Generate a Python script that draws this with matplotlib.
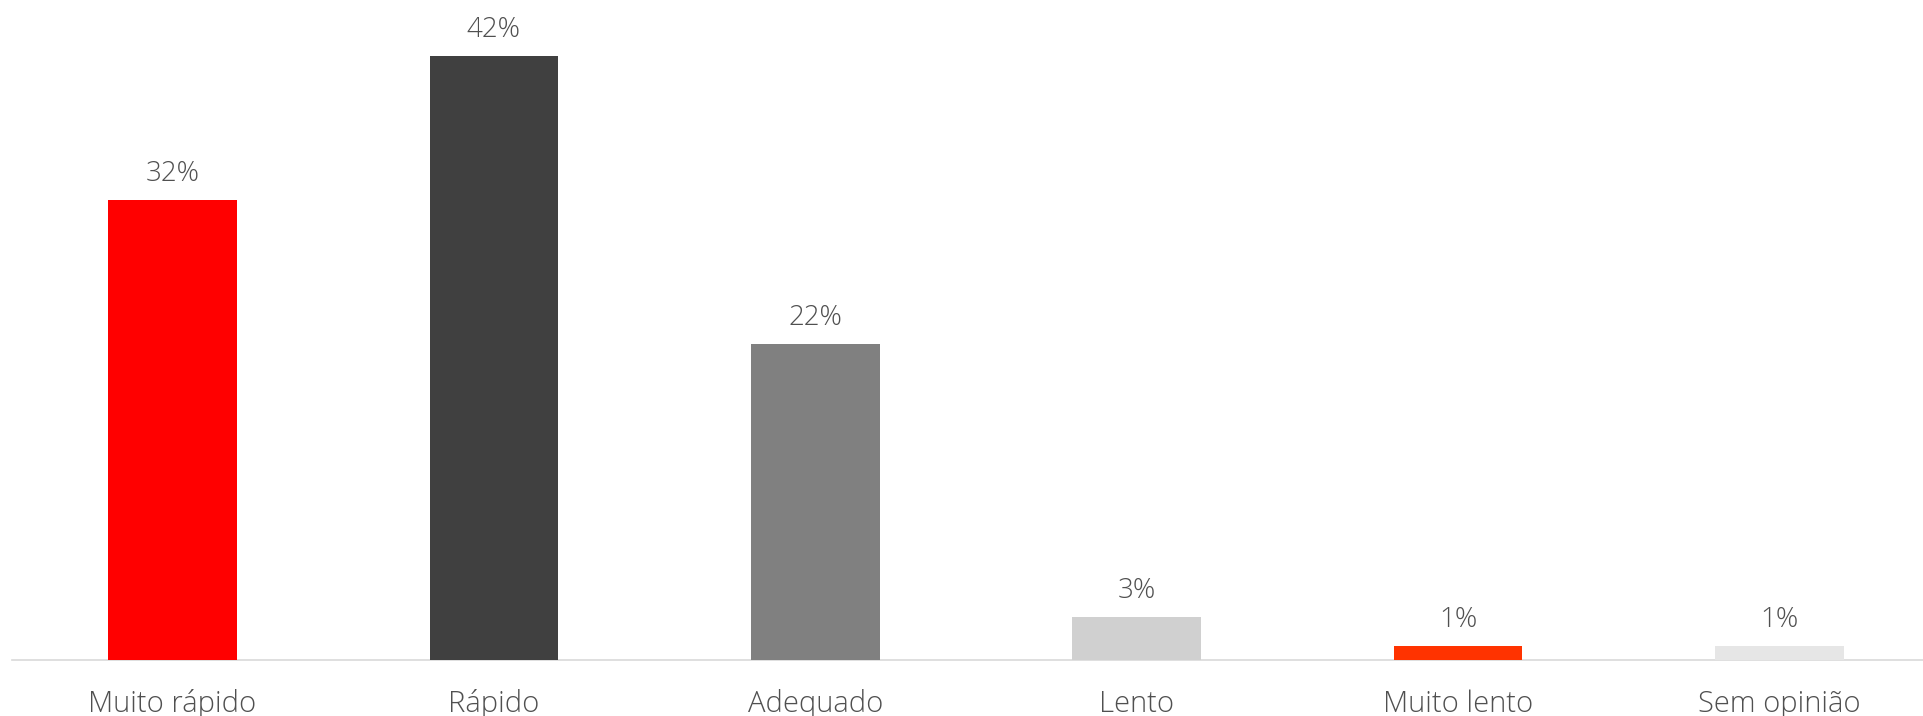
import matplotlib
matplotlib.use("Agg")
import matplotlib.pyplot as plt

# ── Data ───────────────────────────────────────────────────
categories = ["Muito rápido", "Rápido", "Adequado", "Lento", "Muito lento", "Sem opinião"]
values = [32, 42, 22, 3, 1, 1]
bar_colors = ["#FF0000", "#404040", "#808080", "#D0D0D0", "#FF3300", "#E6E6E6"]

text_color = "#505050"
plt.rcParams["font.family"] = ["Open Sans", "DejaVu Sans"]

# ── Plot ───────────────────────────────────────────────────
fig = plt.figure(figsize=(19.23, 7.16), dpi=100)
ax = fig.add_axes([0.00614, 0.0782, 1.0028, 0.9036])

x = range(len(categories))
bars = ax.bar(x, values, width=0.40, color=bar_colors, zorder=2)

for bar, val in zip(bars, values):
    ax.annotate(f"{val}%", (bar.get_x() + bar.get_width() / 2, bar.get_height()),
                xytext=(0, 8.5), textcoords="offset points",
                ha="center", va="bottom", fontsize=20, fontweight="light",
                color=text_color)

ax.set_xlim(-0.5, len(categories) - 0.5)
ax.set_ylim(0, 45)
ax.set_xticks(list(x))
ax.set_xticklabels(categories, fontsize=21, fontweight="light", color=text_color)
ax.tick_params(axis="x", length=0, pad=21)
ax.set_yticks([])

for side in ["top", "right", "left"]:
    ax.spines[side].set_visible(False)
ax.spines["bottom"].set_color("#D9D9D9")
ax.spines["bottom"].set_linewidth(1.2)
ax.spines["bottom"].set_zorder(1)

fig.savefig("out.png", dpi=100)
